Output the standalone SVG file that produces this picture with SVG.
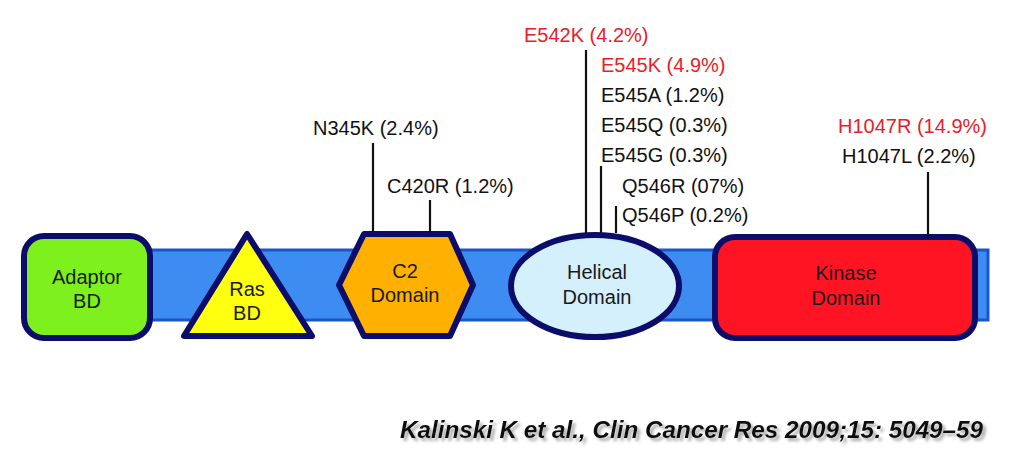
<svg xmlns="http://www.w3.org/2000/svg" width="1024" height="468" viewBox="0 0 1024 468">
<style>
.lbl{font-family:"Liberation Sans",Arial,sans-serif;font-size:20px;fill:#111}
.red{fill:#e8202a}
.node{font-family:"Liberation Sans",Arial,sans-serif;font-size:20px;fill:#1a1a1a;text-anchor:middle}
.dom{stroke:#0c0c6a;stroke-width:6;stroke-linejoin:round}
.tick{stroke:#111;stroke-width:2.2;fill:none}
.cite{font-family:"Liberation Sans",Arial,sans-serif;font-size:24px;font-style:italic;font-weight:bold}
</style>
<defs>
<filter id="shadow" x="-5%" y="-50%" width="110%" height="200%">
<feDropShadow dx="3" dy="3" stdDeviation="1.5" flood-color="#888" flood-opacity="0.7"/>
</filter>
</defs>
<rect width="1024" height="468" fill="#fff"/>
<g id="backbone">
<rect x="130" y="250" width="858" height="70" fill="#3d8cf2" stroke="#1b55c8" stroke-width="3"/>
</g>
<g id="adaptor">
<rect x="24" y="236" width="126" height="102" rx="20" fill="#7ef01e" class="dom"/>
<text class="node" x="87" y="284">Adaptor</text>
<text class="node" x="87" y="308">BD</text>
</g>
<g id="ras">
<polygon points="247,234 184,336 312,336" fill="#ffff10" class="dom"/>
<text class="node" x="247" y="296">Ras</text>
<text class="node" x="247" y="320">BD</text>
</g>
<g id="c2">
<polygon points="364,234 450,234 473,285 450,336 364,336 339,285" fill="#ffb000" class="dom"/>
<text class="node" x="405" y="278">C2</text>
<text class="node" x="405" y="302">Domain</text>
</g>
<g id="helical">
<ellipse cx="595" cy="286" rx="84" ry="51" fill="#d4f0fc" class="dom"/>
<text class="node" x="597" y="279">Helical</text>
<text class="node" x="597" y="304">Domain</text>
</g>
<g id="kinase">
<rect x="715" y="237" width="260" height="101" rx="20" fill="#ff1424" class="dom"/>
<text class="node" x="846" y="280">Kinase</text>
<text class="node" x="846" y="305">Domain</text>
</g>
<g id="connectors">
<line class="tick" x1="373" y1="143" x2="373" y2="233"/>
<line class="tick" x1="430" y1="200" x2="430" y2="233"/>
<line class="tick" x1="586" y1="50" x2="586" y2="233"/>
<line class="tick" x1="601" y1="166" x2="601" y2="233"/>
<line class="tick" x1="616" y1="206" x2="616" y2="233"/>
<line class="tick" x1="928" y1="172" x2="928" y2="236"/>
</g>
<g id="labels">
<text class="lbl" x="313" y="135">N345K (2.4%)</text>
<text class="lbl" x="387" y="193">C420R (1.2%)</text>
<text class="lbl red" x="524" y="42">E542K (4.2%)</text>
<text class="lbl red" x="601" y="72">E545K (4.9%)</text>
<text class="lbl" x="601" y="102">E545A (1.2%)</text>
<text class="lbl" x="601" y="132">E545Q (0.3%)</text>
<text class="lbl" x="601" y="162">E545G (0.3%)</text>
<text class="lbl" x="622" y="193">Q546R (07%)</text>
<text class="lbl" x="622" y="222">Q546P (0.2%)</text>
<text class="lbl red" x="838" y="133">H1047R (14.9%)</text>
<text class="lbl" x="842" y="163">H1047L (2.2%)</text>
</g>
<g id="citation">
<text class="cite" x="400" y="438" fill="#111" filter="url(#shadow)" textLength="583" lengthAdjust="spacingAndGlyphs">Kalinski  K et al., Clin Cancer Res 2009;15: 5049–59</text>
</g>
</svg>
